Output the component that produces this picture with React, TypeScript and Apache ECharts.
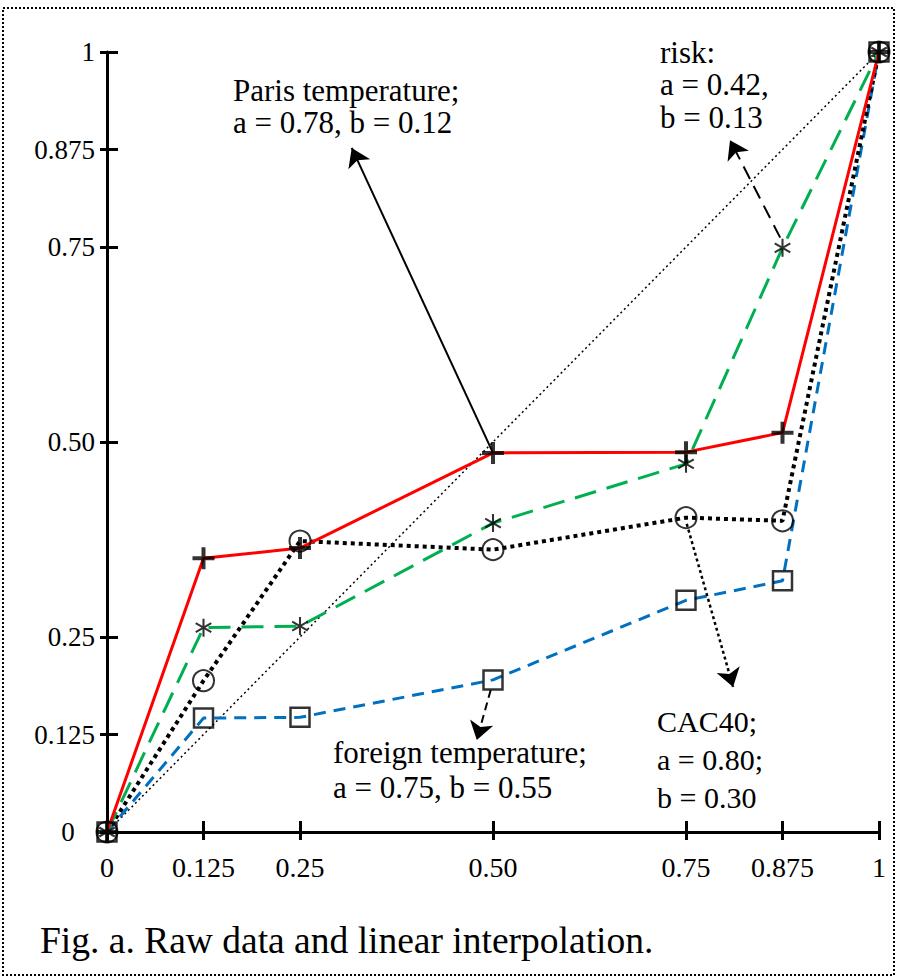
import React, { useEffect, useRef } from 'react';
import * as echarts from 'echarts';

// ---- data ----
const xValues = [0, 0.125, 0.25, 0.5, 0.75, 0.875, 1];
const parisTemperature = [0, 0.351, 0.364, 0.486, 0.487, 0.512, 1];
const risk = [0, 0.262, 0.264, 0.396, 0.472, 0.749, 1];
const cac40 = [0, 0.194, 0.373, 0.362, 0.403, 0.399, 1];
const foreignTemperature = [0, 0.146, 0.147, 0.195, 0.297, 0.322, 1];
const diagonal = [[0, 0], [1, 1]];

const tickValues = [0, 0.125, 0.25, 0.5, 0.75, 0.875, 1];
const tickLabels = ['0', '0.125', '0.25', '0.50', '0.75', '0.875', '1'];

// annotation arrows: [from, to] in data space
const parisArrow = [[0.5, 0.486], [0.317, 0.877]];
const riskArrow = [[0.872, 0.762], [0.807, 0.887]];
const cac40Arrow = [[0.751, 0.395], [0.811, 0.186]];
const foreignArrow = [[0.497, 0.182], [0.479, 0.118]];

const parisLabel = ['Paris temperature;', 'a = 0.78, b = 0.12'];
const riskLabel = ['risk:', 'a = 0.42,', 'b = 0.13'];
const cac40Label = ['CAC40;', 'a = 0.80;', 'b = 0.30'];
const foreignLabel = ['foreign temperature;', 'a = 0.75, b = 0.55'];
const caption = 'Fig. a. Raw data and linear interpolation.';

// ---- styles ----
const FONT = '"Liberation Serif", "Times New Roman", serif';
const RED = '#ff0000';
const GREEN = '#00b050';
const BLUE = '#0070c0';

const PLUS = 'path://M-2,-11H2V-2H11V2H2V11H-2V2H-11V-2H-2Z';
function asteriskPath() {
  const L = 10;
  const w = 1.15;
  return (
    'path://' +
    [90, 30, 150]
      .map((a) => {
        const t = (a * Math.PI) / 180;
        const c = Math.cos(t);
        const s = Math.sin(t);
        const pts = [
          [L * c - w * s, L * s + w * c],
          [L * c + w * s, L * s - w * c],
          [-L * c + w * s, -L * s - w * c],
          [-L * c - w * s, -L * s + w * c],
        ];
        return 'M' + pts.map((p) => p[0].toFixed(2) + ',' + p[1].toFixed(2)).join('L') + 'Z';
      })
      .join('')
  );
}
const ASTERISK = asteriskPath();

const pairs = (ys: number[]) => xValues.map((x, i) => [x, ys[i]]);

function textLines(lines: string[], x: number, baselines: number[], fs: number) {
  return lines.map((t, i) => ({
    type: 'text',
    x,
    y: baselines[i] - 0.34 * fs,
    style: {
      text: t,
      fontSize: fs,
      fontFamily: FONT,
      fill: '#000',
      verticalAlign: 'middle',
      align: 'left',
    },
    z: 20,
  }));
}

export default function App() {
  const ref = useRef<HTMLDivElement>(null);
  useEffect(() => {
    document.body.style.margin = '0';
    const chart = echarts.init(ref.current!, null, { renderer: 'svg' });
    const labelFmt = (v: number) => {
      const i = tickValues.indexOf(v);
      return i >= 0 ? tickLabels[i] : '';
    };
    const yLabelFmt = (v: number) => (v === 0 ? labelFmt(v) + '   ' : labelFmt(v));
    const axisBase = {
      type: 'value',
      min: 0,
      max: 1,
      splitLine: { show: false },
    };
    const xMain = {
      ...axisBase,
      position: 'bottom',
      axisLine: { show: true, onZero: false, lineStyle: { color: '#000', width: 3 } },
      axisTick: { show: true, inside: true, length: 11, customValues: tickValues, lineStyle: { color: '#000', width: 3 } },
      axisLabel: { show: true, customValues: tickValues, formatter: labelFmt, fontSize: 28, fontFamily: FONT, color: '#000', margin: 21 },
    };
    const xOuter = {
      ...axisBase,
      position: 'bottom',
      axisLine: { show: false, onZero: false },
      axisTick: { show: true, inside: false, length: 8, customValues: tickValues, lineStyle: { color: '#000', width: 3 } },
      axisLabel: { show: false },
    };
    const yMain = {
      ...axisBase,
      position: 'left',
      axisLine: { show: true, onZero: false, lineStyle: { color: '#000', width: 3 } },
      axisTick: { show: true, inside: true, length: 11, customValues: tickValues, lineStyle: { color: '#000', width: 3 } },
      axisLabel: { show: true, customValues: tickValues, formatter: yLabelFmt, fontSize: 27, fontFamily: FONT, color: '#000', margin: 12 },
    };
    const yOuter = {
      ...axisBase,
      position: 'left',
      offset: 0,
      axisLine: { show: false, onZero: false },
      axisTick: { show: true, inside: false, length: 7, customValues: tickValues, lineStyle: { color: '#000', width: 3 } },
      axisLabel: { show: false },
    };

    const lineSeries = (data: number[][], color: string, width: number, type: any, z = 2) => ({
      type: 'line',
      data,
      showSymbol: false,
      symbol: 'none',
      clip: false,
      lineStyle: { color, width, type, cap: 'butt' },
      z,
      silent: true,
    });
    const markerSeries = (data: number[][], symbol: string, size: any, itemStyle: any) => ({
      type: 'scatter',
      data,
      symbol,
      symbolSize: size,
      symbolKeepAspect: true,
      clip: false,
      itemStyle,
      z: 5,
      silent: true,
    });
    const arrowSeries = (coords: number[][], type: any, width: number) => ({
      type: 'lines',
      coordinateSystem: 'cartesian2d',
      data: [{ coords }],
      symbol: ['none', 'arrow'],
      symbolSize: [0, 18],
      lineStyle: { color: '#000', width, type, opacity: 1 },
      z: 6,
      silent: true,
    });

    chart.setOption({
      animation: false,
      backgroundColor: '#fff',
      grid: { left: 107, right: 18, top: 52, bottom: 146, containLabel: false },
      xAxis: [xMain, xOuter],
      yAxis: [yMain, yOuter],
      series: [
        lineSeries(diagonal, '#000', 1.5, [2, 3], 1),
        lineSeries(pairs(foreignTemperature), BLUE, 3, [12, 8]),
        lineSeries(pairs(cac40), '#000', 4, [4, 4]),
        lineSeries(pairs(risk), GREEN, 3, [22, 11]),
        lineSeries(pairs(parisTemperature), RED, 3, 'solid'),
        markerSeries(pairs(foreignTemperature), 'rect', 19, { color: 'transparent', borderColor: '#000', borderWidth: 2.5 }),
        markerSeries(pairs(cac40), 'circle', 21, { color: 'transparent', borderColor: '#000', borderWidth: 2 }),
        markerSeries(pairs(risk), ASTERISK, 18, { color: '#000' }),
        markerSeries(pairs(parisTemperature), PLUS, 22, { color: '#000' }),
        arrowSeries(parisArrow, 'solid', 2),
        arrowSeries(riskArrow, [14, 8], 2),
        arrowSeries(cac40Arrow, [3, 3], 2.5),
        arrowSeries(foreignArrow, [8, 5], 2),
      ],
      graphic: [
        {
          type: 'rect',
          shape: { x: 3, y: 8, width: 891, height: 967 },
          style: { fill: 'none', stroke: '#000', lineWidth: 2, lineDash: [2, 2] },
          z: 0,
        },
        ...textLines(parisLabel, 233, [101, 133], 31),
        ...textLines(riskLabel, 660, [63, 95, 128], 31),
        ...textLines(cac40Label, 657, [732, 770, 808], 30),
        ...textLines(foreignLabel, 333, [763, 798], 31),
        ...textLines([caption], 40, [953], 37.5),
      ],
    });
    return () => chart.dispose();
  }, []);
  return <div ref={ref} style={{ width: 897, height: 978 }} />;
}
